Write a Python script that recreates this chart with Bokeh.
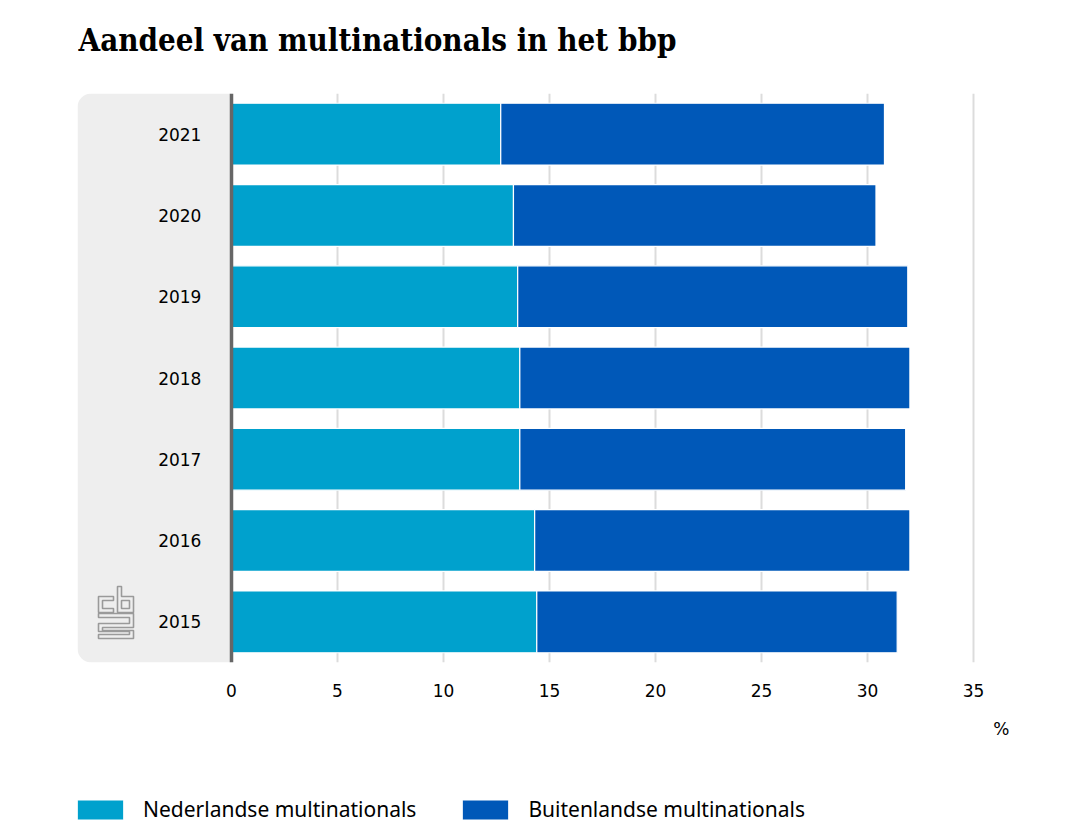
from bokeh.plotting import figure
from bokeh.layouts import column
from bokeh.models import (Range1d, FixedTicker, Span, BoxAnnotation, Legend,
                          LegendItem, Label, ColumnDataSource)
from bokeh.core.properties import value
from bokeh.embed import file_html
from bokeh.resources import INLINE

# ---------------- data ----------------
years = ["2021", "2020", "2019", "2018", "2017", "2016", "2015"]
nederlandse = [12.7, 13.3, 13.5, 13.6, 13.6, 14.3, 14.4]
buitenlandse = [18.1, 17.1, 18.4, 18.4, 18.2, 17.7, 17.0]
x_ticks = [0, 5, 10, 15, 20, 25, 30, 35]
series_names = ["Nederlandse multinationals", "Buitenlandse multinationals"]
colors = ["#00A1CD", "#0058B8"]
title_text = "Aandeel van multinationals in het bbp"
unit_text = "%"

# ---------------- layout (page px) ----------------
W = 1060
FL, FR = 77, 1009            # frame left/right
TOP_H = 93                   # title strip height
FT, FB = 93, 662             # chart frame top/bottom
MAIN_BOTTOM = 712
LH = 115                     # unit + legend strip height
ZERO_PX = 231
PX_PER_UNIT = 21.2
x_start = (FL - ZERO_PX) / PX_PER_UNIT
x_end = (FR - ZERO_PX) / PX_PER_UNIT
n = len(years)
row_px = (FB - FT) / n

def strip(height):
    f = figure(width=W, height=height, output_backend="svg", toolbar_location=None,
               x_range=Range1d(x_start, x_end), y_range=Range1d(0, height),
               x_axis_location=None, y_axis_location=None,
               min_border_left=FL, min_border_right=W - FR,
               min_border_top=0, min_border_bottom=0)
    f.outline_line_color = None
    f.grid.visible = False
    return f

# ---------------- title strip ----------------
t = strip(TOP_H)
t.add_layout(Label(x=x_start + 1 / PX_PER_UNIT, y=TOP_H - 39, text=title_text,
                   text_align="left", text_baseline="alphabetic",
                   text_font="DejaVu Serif Condensed", text_font_size="31px",
                   text_font_style="bold", text_color="black"))

# ---------------- main chart ----------------
ypos = [n - i - 0.5 for i in range(n)]
totals = [a + b for a, b in zip(nederlandse, buitenlandse)]
src = ColumnDataSource(dict(y=ypos, year=years, ned=nederlandse, tot=totals))

H = MAIN_BOTTOM - TOP_H
p = figure(width=W, height=H, output_backend="svg", toolbar_location=None,
           x_range=Range1d(x_start, x_end), y_range=Range1d(0, n),
           min_border_left=FL, min_border_right=W - FR,
           min_border_top=FT - TOP_H, min_border_bottom=MAIN_BOTTOM - FB)
p.outline_line_color = None
p.background_fill_color = "white"

box = BoxAnnotation(right=0, fill_color="#eeeeee", fill_alpha=1.0, line_alpha=0,
                    level="underlay",
                    border_radius=dict(top_left=14, bottom_left=14, top_right=0, bottom_right=0))
p.add_layout(box)

r1 = p.hbar(y="y", left=0, right="ned", height=0.76, source=src,
            fill_color=colors[0], line_color="white", line_width=1.2)
r2 = p.hbar(y="y", left="ned", right="tot", height=0.76, source=src,
            fill_color=colors[1], line_color="white", line_width=1.2)

p.text(x=-1.42, y="y", text="year", source=src, text_align="right",
       text_baseline="middle", text_font=value("DejaVu Sans"),
       text_font_size="17px", text_color="black")

# cbs logo (decoration, page pixel offsets)
def lx(px):
    return (px - ZERO_PX) / PX_PER_UNIT

def ly(py):
    return (FB - py) / row_px

logo_shapes = [
    [(98, 596), (113, 596), (113, 600), (102, 600), (102, 608), (113, 608), (113, 612), (98, 612)],
    [(117, 586), (121, 586), (121, 596), (133, 596), (133, 612), (117, 612)],
    [(121, 600), (129, 600), (129, 608), (121, 608)],
    [(98, 613), (133, 613), (133, 627), (102, 627), (102, 630), (133, 630), (133, 638), (98, 638),
     (98, 634), (129, 634), (129, 631), (98, 631), (98, 623), (129, 623), (129, 617), (98, 617)],
]
p.patches(xs=[[lx(a) for a, b in s] for s in logo_shapes],
          ys=[[ly(b) for a, b in s] for s in logo_shapes],
          fill_alpha=0, line_color="#9a9a9a", line_width=1.6)

p.add_layout(Span(location=0, dimension="height", line_color="#666666", line_width=3.5))

p.yaxis.visible = False
p.ygrid.visible = False
p.xgrid.ticker = FixedTicker(ticks=x_ticks[1:])
p.xgrid.grid_line_color = "#dcdcdc"
p.xgrid.grid_line_width = 2
p.xaxis.ticker = FixedTicker(ticks=x_ticks)
p.xaxis.axis_line_color = None
p.xaxis.major_tick_line_color = None
p.xaxis.minor_tick_line_color = None
p.xaxis.major_label_text_font = "DejaVu Sans"
p.xaxis.major_label_text_font_size = "17px"
p.xaxis.major_label_text_color = "black"
p.xaxis.major_label_standoff = 15

# ---------------- unit + legend strip ----------------
q = strip(LH)
q.add_layout(Label(x=x_end, y=LH - 16, text=unit_text, text_align="right",
                   text_baseline="middle", text_font="DejaVu Sans",
                   text_font_size="17px", text_color="black"))
l1 = q.hbar(y=[-50], left=[0], right=[0], height=5, fill_color=colors[0], line_color="white")
l2 = q.hbar(y=[-50], left=[0], right=[0], height=5, fill_color=colors[1], line_color="white")
legend = Legend(items=[LegendItem(label=series_names[0], renderers=[l1]),
                       LegendItem(label=series_names[1], renderers=[l2])],
                orientation="horizontal", location=(-6, 4),
                glyph_width=58, glyph_height=25, label_standoff=14, spacing=40,
                padding=0, margin=0, border_line_alpha=0, background_fill_alpha=0,
                label_text_font="Noto Sans", label_text_font_size="21px",
                label_text_color="black")
q.add_layout(legend)

open("out.html", "w").write(file_html(column(t, p, q), INLINE))
